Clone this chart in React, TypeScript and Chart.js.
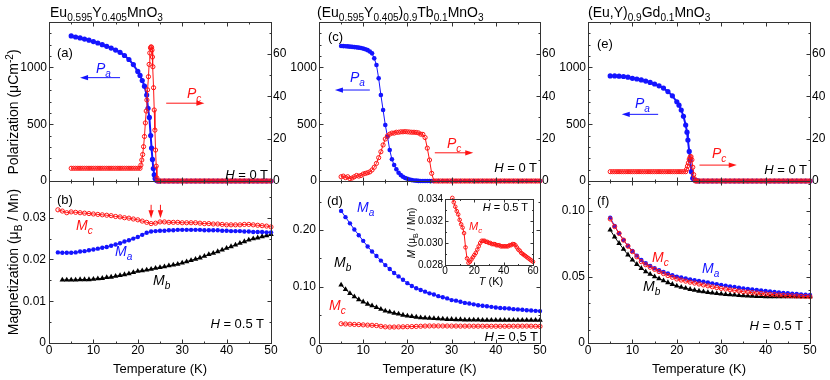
import React, { useEffect, useRef } from 'react';
import { Chart, registerables } from 'chart.js';
Chart.register(...registerables);

const W = 830;
const H = 380;
const FONT = '"Liberation Sans", Arial, Helvetica, sans-serif';
const BLUE = 'rgb(20,20,255)';
const RED = 'rgb(255,20,20)';
const BLACK = '#000';

// ---------------- Panel (a): Eu0.595Y0.405MnO3, H = 0 T ----------------
const aPaT = [5,6,7,8,9,10,11,12,13,14,15,16,17,18,19,20,20.5,21,21.5,22,22.3,22.6,22.9,23.1,23.3,23.5,23.7,23.9,24.2,24.5,
  25,26,27,28,29,30,31,32,33,34,35,36,37,38,39,40,41,42,43,44,45,46,47,48,49,50];
const aPa = [1277,1268,1260,1250,1240,1228,1215,1200,1186,1170,1153,1133,1105,1070,1025,965,930,885,835,757,640,560,400,290,190,110,55,22,6,0,
  0,0,0,0,0,0,0,0,0,0,0,0,0,0,0,0,0,0,0,0,0,0,0,0,0,0];
const aPcT = [5,5.5,6,6.5,7,7.5,8,8.5,9,9.5,10,10.5,11,11.5,12,12.5,13,13.5,14,14.5,15,15.5,16,16.5,17,17.5,18,18.5,19,19.5,20,20.5,
  20.7,20.9,21.1,21.3,21.5,21.7,21.9,22.05,22.2,22.4,22.55,22.7,22.85,23.0,23.1,23.2,23.3,23.4,23.55,23.7,23.85,24.0,24.15,24.3,24.5,
  25,25.5,26,26.5,27,27.5,28,28.5,29,29.5,30,30.5,31,31.5,32,32.5,33,33.5,34,34.5,35,35.5,36,36.5,37,37.5,38,38.5,39,39.5,40,40.5,
  41,41.5,42,42.5,43,43.5,44,44.5,45,45.5,46,46.5,47,47.5,48,48.5,49,49.5,50];
const aPc = [6,6,6,6,6,6,6,6,6,6,6,6,6,6,6,6,6,6,6,6,6,6,6,6,6,6,6,6,6,6,6,6,
  7.5,9.9,12.5,16.2,21,27.4,33,38.2,43,49.2,55,60.4,62.8,63.3,63,61.8,58.5,53.9,44,33.5,24,14.6,7,1.4,0,
  0,0,0,0,0,0,0,0,0,0,0,0,0,0,0,0,0,0,0,0,0,0,0,0,0,0,0,0,0,0,0,0,0,0,0,0,0,0,0,0,0,0,0,0,0,0,0,0,0,0,0];
const aArrows = [
  { x1: 16, y1: 910, x2: 7, y2: 910, ax: 'y', c: BLUE },
  { x1: 26.4, y1: 36.7, x2: 35, y2: 36.7, ax: 'y2', c: RED },
];

// ---------------- Panel (b): magnetization, H = 0.5 T ----------------
const bT = [2,3,4,5,6,7,8,9,10,11,12,13,14,15,16,17,18,19,20,21,22,23,24,25,26,27,28,29,30,31,32,33,34,35,36,37,38,39,40,41,42,43,44,45,46,47,48,49,50];
const bMc = [.0319,.0316,.0312,.0314,.0313,.0312,.0311,.0310,.0309,.0308,.0307,.0306,.0305,.0303,.0302,.0300,.0299,.0297,.0295,.0292,
  .0289,.0286,.0287,.0290,.0290,.0289,.0289,.0289,.0288,.0288,.0288,.0288,.0287,.0286,.0286,.0285,.0285,.0284,.0283,.0283,
  .0283,.0283,.0284,.0284,.0283,.0282,.0281,.0280,.0278];
const bMa = [.0217,.0216,.0216,.0216,.0217,.0219,.0220,.0222,.0224,.0226,.0228,.0230,.0233,.0236,.0239,.0243,.0246,.0250,.0254,.0259,
  .0264,.0267,.0268,.0269,.0269,.0270,.0270,.0271,.0271,.0271,.0271,.0271,.0271,.0270,.0270,.0270,.0270,.0269,.0269,.0268,
  .0268,.0268,.0267,.0267,.0266,.0266,.0266,.0265,.0265];
const bMbT = [3,4,5,6,7,8,9,10,11,12,13,14,15,16,17,18,19,20,21,22,23,24,25,26,27,28,29,30,31,32,33,34,35,36,37,38,39,40,41,42,43,44,45,46,47,48,49,50];
const bMb = [.0151,.0151,.0151,.0151,.0152,.0152,.0152,.0153,.0154,.0155,.0157,.0158,.0160,.0162,.0164,.0166,.0169,.0172,.0173,.0175,
  .0177,.0179,.0181,.0183,.0185,.0187,.0189,.0192,.0195,.0198,.0201,.0204,.0208,.0212,.0215,.0219,.0223,.0227,.0231,.0235,
  .0239,.0243,.0247,.0250,.0252,.0255,.0257,.0260];
const bArrows = [
  { x1: 23, y1: 0.0331, x2: 23, y2: 0.0299, ax: 'y', c: RED },
  { x1: 25.1, y1: 0.0331, x2: 25.1, y2: 0.0299, ax: 'y', c: RED },
];

// ---------------- Panel (c): (Eu0.595Y0.405)0.9Tb0.1MnO3, H = 0 T ----------------
const cPaT = [5,5.5,6,6.5,7,7.5,8,8.5,9,9.5,10,10.5,11,11.5,12,12.5,13,13.5,14,14.5,15,15.5,16,16.5,17,17.5,18,18.5,19,19.5,
  20,20.5,21,21.5,22,22.5,23,23.5,24,24.5,25,25.5,26,27,28,29,30,31,32,33,34,35,36,37,38,39,40,41,42,43,44,45,46,47,48,49,50];
const cPa = [1189,1188,1186,1185,1183,1181,1179,1177,1174,1171,1166,1160,1152,1140,1124,1080,1021,904,757,625,493,390,273,191,141,103,73,52,38,27,
  20,13,8,5,3,1,0,0,0,0,0,0,0,0,0,0,0,0,0,0,0,0,0,0,0,0,0,0,0,0,0,0,0,0,0,0,0];
const cPcT = [5,5.5,6,6.5,7,7.5,8,8.5,9,9.5,10,10.5,11,11.5,12,12.5,13,13.5,14,14.5,15,15.5,16,16.5,17,17.5,18,18.5,19,19.5,
  20,20.5,21,21.5,22,22.5,23,23.5,24,24.5,25,25.5,26,26.5,27,27.5,28,28.5,29,29.5,30,30.5,31,31.5,32,32.5,33,33.5,34,34.5,35,35.5,
  36,36.5,37,37.5,38,38.5,39,39.5,40,40.5,41,41.5,42,42.5,43,43.5,44,44.5,45,45.5,46,46.5,47,47.5,48,48.5,49,49.5,50];
const cPc = [2.0,2.3,1.6,2.0,1.1,1.4,2.0,2.6,2.3,2.6,3.3,3.6,3.9,4.3,5.2,6.5,8.3,11,13.8,17,19.8,21.3,22.1,22.6,22.6,23,23,23.2,23.2,23.3,
  23.2,23.1,23,23,22.9,22.7,22.1,22.0,20.5,15.5,9.9,3.6,0,
  0,0,0,0,0,0,0,0,0,0,0,0,0,0,0,0,0,0,0,0,0,0,0,0,0,0,0,0,0,0,0,0,0,0,0,0,0,0,0,0,0,0,0,0,0,0,0,0];
const cArrows = [
  { x1: 11.5, y1: 801, x2: 3.6, y2: 801, ax: 'y', c: BLUE },
  { x1: 26.2, y1: 13.3, x2: 34.9, y2: 13.3, ax: 'y2', c: RED },
];

// ---------------- Panel (d): magnetization + inset ----------------
const dT = [5,6,7,8,9,10,11,12,13,14,15,16,17,18,19,20,21,22,23,24,25,26,27,28,29,30,31,32,33,34,35,36,37,38,39,40,41,42,43,44,45,46,47,48,49,50];
const dMa = [.234,.223,.212,.201,.191,.181,.171,.162,.154,.146,.138,.131,.124,.118,.112,.106,.101,.097,.094,.091,
  .088,.086,.083,.081,.079,.076,.075,.073,.071,.070,.0685,.067,.066,.065,.064,.063,.062,.0615,.061,.060,.0595,.059,.058,.0575,.057,.0565];
const dMb = [.103,.095,.088,.082,.077,.073,.069,.066,.063,.060,.057,.055,.053,.0515,.0495,.048,.047,.046,.045,.0445,
  .044,.0435,.043,.0425,.042,.042,.0415,.0415,.041,.041,.041,.041,.0405,.0405,.0405,.0405,.0405,.0405,.0405,.0405,.0405,.0405,.0405,.0405,.0405,.0405];
const dMcT = [5,6,7,8,9,10,11,12,13,14,15,16,17,18,19,20,21,22,23,24,25,26,27,28,29,30,31,32,33,34,35,36,37,38,39,40,
  41,42,43,44,45,46,47,48,49,50,51,52,53,54,55,56,57,58,59,60];
const dMc = [.0341,.0337,.0333,.0329,.0326,.0321,.0317,.0314,.0309,.0296,.0286,.0282,.0283,.0285,.0287,.0289,.0291,.0294,.0297,.0300,
  .0302,.0302,.0302,.0301,.0301,.0300,.0300,.0299,.0299,.0299,.0298,.0298,.0298,.0297,.0297,.0297,.0297,.0297,.0297,.0298,
  .0298,.0299,.0299,.0298,.0296,.0294,.0293,.0291,.0290,.0289,.0288,.0287,.0286,.0285,.0284,.0283];

// ---------------- Panel (e): (Eu,Y)0.9Gd0.1MnO3, H = 0 T ----------------
const ePaT = [5,6,7,8,9,10,11,12,13,14,15,16,17,18,19,20,20.5,21,21.5,22,22.3,22.5,22.8,23,23.3,23.6,24,24.5,
  25,26,27,28,29,30,31,32,33,34,35,36,37,38,39,40,41,42,43,44,45,46,47,48,49,50];
const ePa = [925,925,923,920,914,904,898,890,880,868,854,838,818,787,750,698,668,625,570,493,430,361,260,185,82,24,8,3,
  0,0,0,0,0,0,0,0,0,0,0,0,0,0,0,0,0,0,0,0,0,0,0,0,0,0];
const ePcT = [5,5.5,6,6.5,7,7.5,8,8.5,9,9.5,10,10.5,11,11.5,12,12.5,13,13.5,14,14.5,15,15.5,16,16.5,17,17.5,18,18.5,19,19.5,20,20.5,21,21.5,22,
  22.2,22.4,22.6,22.8,23.0,23.2,23.4,23.6,23.8,24.0,24.2,
  24.5,25,25.5,26,26.5,27,27.5,28,28.5,29,29.5,30,30.5,31,31.5,32,32.5,33,33.5,34,34.5,35,35.5,36,36.5,37,37.5,38,38.5,39,39.5,
  40,40.5,41,41.5,42,42.5,43,43.5,44,44.5,45,45.5,46,46.5,47,47.5,48,48.5,49,49.5,50];
const ePc = [4.4,4.4,4.4,4.4,4.4,4.4,4.4,4.4,4.4,4.4,4.4,4.4,4.4,4.4,4.4,4.4,4.4,4.4,4.4,4.4,4.4,4.4,4.4,4.4,4.4,4.4,4.4,4.4,4.4,4.4,4.4,4.4,4.4,4.4,4.4,
  5.5,7.0,8.5,10.3,11.3,11.5,10.0,6.5,3.0,1.0,0,
  0,0,0,0,0,0,0,0,0,0,0,0,0,0,0,0,0,0,0,0,0,0,0,0,0,0,0,0,0,0,0,0,0,0,0,0,0,0,0,0,0,0,0,0,0,0,0,0,0,0,0,0];
const eArrows = [
  { x1: 15.8, y1: 587, x2: 7.6, y2: 587, ax: 'y', c: BLUE },
  { x1: 25.1, y1: 7.5, x2: 33.5, y2: 7.5, ax: 'y2', c: RED },
];

// ---------------- Panel (f): magnetization ----------------
const fT = [5,6,7,8,9,10,11,12,13,14,15,16,17,18,19,20,21,22,23,24,25,26,27,28,29,30,31,32,33,34,35,36,37,38,39,40,41,42,43,44,45,46,47,48,49,50];
const fMa = [.0948,.0885,.0829,.0778,.0735,.0696,.0661,.0628,.0603,.0583,.0565,.0550,.0537,.0525,.0513,.0502,.0495,.0488,.0481,.0475,
  .0469,.0463,.0457,.0451,.0445,.0439,.0434,.0428,.0423,.0418,.0413,.0409,.0405,.0401,.0397,.0393,.0390,.0386,.0383,.0379,
  .0376,.0373,.0371,.0368,.0366,.0363];
const fMc = [.0938,.0880,.0829,.0778,.0732,.0691,.0652,.0615,.0592,.0573,.0557,.0540,.0525,.0510,.0497,.0484,.0476,.0468,.0460,.0453,
  .0446,.0439,.0432,.0425,.0419,.0413,.0408,.0403,.0398,.0393,.0388,.0385,.0381,.0378,.0374,.0371,.0368,.0366,.0363,.0361,
  .0358,.0357,.0355,.0353,.0352,.0350];
const fMb = [.0855,.0802,.0754,.0709,.0667,.0628,.0595,.0565,.0540,.0520,.0502,.0486,.0471,.0457,.0444,.0431,.0422,.0414,.0406,.0399,
  .0393,.0388,.0383,.0379,.0375,.0371,.0368,.0365,.0363,.0360,.0358,.0356,.0355,.0353,.0352,.0351,.0350,.0350,.0350,.0350,
  .0350,.0350,.0350,.0350,.0350,.0350];

// ---------------- helpers ----------------
const pts = (xs: number[], ys: number[]) => xs.map((x, i) => ({ x, y: ys[i] }));

const sBlueThick = (data: any[], ax = 'y') => ({
  data, yAxisID: ax, showLine: true, borderColor: BLUE, borderWidth: 2, tension: 0, fill: false, clip: false,
  pointRadius: 2.6, pointBackgroundColor: BLUE, pointBorderColor: BLUE, pointBorderWidth: 0, pointHoverRadius: 0,
});
const sBlue = (data: any[], ax = 'y', r = 2.2) => ({
  data, yAxisID: ax, showLine: true, borderColor: BLUE, borderWidth: 1, tension: 0, fill: false, clip: false,
  pointRadius: r, pointBackgroundColor: BLUE, pointBorderColor: BLUE, pointBorderWidth: 0, pointHoverRadius: 0,
});
const sRed = (data: any[], ax = 'y', r = 2.1) => ({
  data, yAxisID: ax, showLine: true, borderColor: RED, borderWidth: 1, tension: 0, fill: false, clip: false,
  pointRadius: r, pointBackgroundColor: 'rgba(255,255,255,0)', pointBorderColor: RED, pointBorderWidth: 1, pointHoverRadius: 0,
});
const sBlack = (data: any[], ax = 'y') => ({
  data, yAxisID: ax, showLine: true, borderColor: BLACK, borderWidth: 1, tension: 0, fill: false, clip: false,
  pointStyle: 'triangle', pointRadius: 3.2, pointBackgroundColor: BLACK, pointBorderColor: BLACK, pointBorderWidth: 0, pointHoverRadius: 0,
});

const framePlugin = {
  id: 'frame',
  afterDatasetsDraw(chart: any, _args: any, o: any) {
    const { ctx, chartArea: ca, scales } = chart;
    const L = Math.round(ca.left) + 0.5;
    const R = Math.round(ca.right) + 0.5;
    const T = Math.round(ca.top) + 0.5;
    const B = Math.round(ca.bottom) + 0.5;
    const tl = o.tl ?? 4;
    const tm = o.tm ?? 2;
    ctx.save();
    ctx.strokeStyle = '#333';
    ctx.lineWidth = 1;
    ctx.strokeRect(L, T, R - L, B - T);
    const each = (min: number, max: number, minor: number, major: number, fn: (v: number, len: number) => void) => {
      const i0 = Math.ceil(min / minor - 1e-9);
      const i1 = Math.floor(max / minor + 1e-9);
      for (let i = i0; i <= i1; i++) {
        const v = i * minor;
        const isMaj = Math.abs(v / major - Math.round(v / major)) < 1e-6;
        fn(v, isMaj ? tl : tm);
      }
    };
    ctx.beginPath();
    const xs = scales.x;
    each(xs.min, xs.max, o.xMinor, o.xMajor, (v, len) => {
      const p = Math.round(xs.getPixelForValue(v)) + 0.5;
      if (p <= L + 0.6 || p >= R - 0.6) return;
      ctx.moveTo(p, B); ctx.lineTo(p, B - len);
      ctx.moveTo(p, T); ctx.lineTo(p, T + len);
    });
    const ys = scales.y;
    const y2 = scales.y2;
    each(ys.min, ys.max, o.yMinor, o.yMajor, (v, len) => {
      const p = Math.round(ys.getPixelForValue(v)) + 0.5;
      if (p <= T + 0.6 || p >= B - 0.6) return;
      ctx.moveTo(L, p); ctx.lineTo(L + len, p);
      if (!y2) { ctx.moveTo(R, p); ctx.lineTo(R - len, p); }
    });
    if (y2) {
      each(y2.min, y2.max, o.y2Minor, o.y2Major, (v, len) => {
        const p = Math.round(y2.getPixelForValue(v)) + 0.5;
        if (p <= T + 0.6 || p >= B - 0.6) return;
        ctx.moveTo(R, p); ctx.lineTo(R - len, p);
      });
    }
    ctx.stroke();
    for (const a of o.arrows || []) {
      const sy = scales[a.ax];
      const x1 = xs.getPixelForValue(a.x1), x2 = xs.getPixelForValue(a.x2);
      const y1 = sy.getPixelForValue(a.y1), y2p = sy.getPixelForValue(a.y2);
      const ang = Math.atan2(y2p - y1, x2 - x1);
      const hl = 8, hw = 2.6;
      const c = Math.cos(ang), s = Math.sin(ang);
      ctx.strokeStyle = a.c; ctx.fillStyle = a.c; ctx.lineWidth = 1;
      ctx.beginPath();
      ctx.moveTo(x1, y1); ctx.lineTo(x2 - hl * c * 0.8, y2p - hl * s * 0.8);
      ctx.stroke();
      ctx.beginPath();
      ctx.moveTo(x2, y2p);
      ctx.lineTo(x2 - hl * c + hw * s, y2p - hl * s - hw * c);
      ctx.lineTo(x2 - hl * c - hw * s, y2p - hl * s + hw * c);
      ctx.closePath();
      ctx.fill();
    }
    ctx.restore();
  },
};

interface Ax { min: number; max: number; step: number; minor: number; fmt?: (v: number) => string; }
interface PanelDef {
  area: [number, number, number, number];
  x: Ax; showX: boolean; y: Ax; y2?: Ax;
  sets: any[]; arrows?: any[];
  font?: number; lw?: number; rw?: number; bh?: number; tl?: number; tm?: number; ypad?: number;
}

const stepTicks = (ax: Ax) => {
  const out: { value: number }[] = [];
  const i0 = Math.ceil(ax.min / ax.step - 1e-9);
  const i1 = Math.floor(ax.max / ax.step + 1e-9);
  for (let i = i0; i <= i1; i++) out.push({ value: Number((i * ax.step).toFixed(6)) });
  return out;
};

function makeConfig(d: PanelDef): any {
  const [l, t, r, b] = d.area;
  const fs = d.font ?? 12;
  const LW = d.lw ?? 45, RW = d.rw ?? 30, BH = d.bh ?? 20;
  const tickFont = { family: FONT, size: fs };
  const mkY = (ax: Ax, pos: string, w: number) => ({
    type: 'linear', position: pos, min: ax.min, max: ax.max,
    afterBuildTicks: (s: any) => { s.ticks = stepTicks(ax); },
    afterFit: (s: any) => { s.width = w; },
    grid: { display: false, drawTicks: false, tickLength: 0 },
    border: { display: false },
    ticks: {
      font: tickFont, color: '#000', padding: d.ypad ?? 2, autoSkip: false,
      callback: (v: any) => (ax.fmt ? ax.fmt(Number(v)) : String(v)),
    },
  });
  const scales: any = {
    x: {
      type: 'linear', min: d.x.min, max: d.x.max,
      afterBuildTicks: (s: any) => { s.ticks = stepTicks(d.x); },
      afterFit: (s: any) => { s.height = d.showX ? BH : 0; },
      grid: { display: false, drawTicks: false, tickLength: 0 },
      border: { display: false },
      ticks: {
        display: d.showX, font: tickFont, color: '#000', padding: 0,
        maxRotation: 0, autoSkip: false, callback: (v: any) => String(v),
      },
    },
    y: mkY(d.y, 'left', LW),
  };
  if (d.y2) scales.y2 = mkY(d.y2, 'right', RW);
  return {
    type: 'line',
    data: { datasets: d.sets },
    options: {
      responsive: false, animation: false, devicePixelRatio: 1, events: [],
      layout: { padding: { left: l - LW, top: t, right: W - r - (d.y2 ? RW : 0), bottom: H - b - (d.showX ? BH : 0) } },
      plugins: {
        legend: { display: false }, tooltip: { enabled: false },
        frame: {
          xMajor: d.x.step, xMinor: d.x.minor, yMajor: d.y.step, yMinor: d.y.minor,
          y2Major: d.y2?.step, y2Minor: d.y2?.minor, arrows: d.arrows || [], tl: d.tl, tm: d.tm,
        },
      },
      scales,
    },
    plugins: [framePlugin],
  };
}

const XT: Ax = { min: 0, max: 50, step: 10, minor: 5 };
const PL: Ax = { min: 0, max: 1400, step: 500, minor: 100 };
const PR: Ax = { min: 0, max: 75, step: 20, minor: 10 };
const f2 = (v: number) => (v === 0 ? '0' : v.toFixed(2));

const panels: PanelDef[] = [
  { area: [49, 22, 271, 181], x: XT, showX: false, y: PL, y2: PR, arrows: aArrows,
    sets: [sRed(pts(aPcT, aPc), 'y2'), sBlueThick(pts(aPaT, aPa), 'y')] },
  { area: [49, 181, 271, 343], x: XT, showX: true, y: { min: 0, max: 0.0388, step: 0.01, minor: 0.005, fmt: f2 }, arrows: bArrows, ypad: 3,
    sets: [sRed(pts(bT, bMc)), sBlue(pts(bT, bMa)), sBlack(pts(bMbT, bMb))] },
  { area: [319, 22, 540, 181], x: XT, showX: false, y: PL, y2: PR, arrows: cArrows,
    sets: [sRed(pts(cPcT, cPc), 'y2'), sBlue(pts(cPaT, cPa), 'y', 2.3)] },
  { area: [319, 181, 540, 343], x: XT, showX: true, y: { min: 0, max: 0.287, step: 0.1, minor: 0.05, fmt: f2 }, ypad: 3,
    sets: [sRed(pts(dMcT, dMc).filter((p) => p.x <= 50)), sBlue(pts(dT, dMa)), sBlack(pts(dT, dMb))] },
  { area: [588, 22, 810, 181], x: XT, showX: false, y: PL, y2: PR, arrows: eArrows,
    sets: [sRed(pts(ePcT, ePc), 'y2'), sBlueThick(pts(ePaT, ePa), 'y')] },
  { area: [588, 181, 810, 343], x: XT, showX: true, y: { min: 0, max: 0.1225, step: 0.05, minor: 0.01, fmt: f2 }, ypad: 3,
    sets: [sRed(pts(fT, fMc)), sBlue(pts(fT, fMa)), sBlack(pts(fT, fMb))] },
  { area: [445, 199, 533, 265], x: { min: 0, max: 60, step: 20, minor: 10 }, showX: true,
    y: { min: 0.028, max: 0.034, step: 0.002, minor: 0.001, fmt: (v) => v.toFixed(3) },
    font: 10, lw: 30, bh: 12, tl: 3, tm: 1.5, ypad: 2,
    sets: [sRed(pts(dMcT, dMc), 'y', 1.8)] },
];

function ChartCanvas({ def }: { def: PanelDef }) {
  const ref = useRef<HTMLCanvasElement | null>(null);
  useEffect(() => {
    if (!ref.current) return;
    const chart = new Chart(ref.current, makeConfig(def));
    return () => chart.destroy();
  }, [def]);
  return <canvas ref={ref} width={W} height={H} style={{ position: 'absolute', left: 0, top: 0, width: W, height: H }} />;
}

function Txt({ x, y, a = 'l', s = 13, c = '#000', r = false, children }: any) {
  const tr = r
    ? 'translate(-50%,-50%) rotate(-90deg)'
    : a === 'l' ? 'translate(0,-50%)' : a === 'r' ? 'translate(-100%,-50%)' : 'translate(-50%,-50%)';
  return (
    <div style={{ position: 'absolute', left: x, top: y, transform: tr, fontFamily: FONT, fontSize: s, color: c, lineHeight: 1, whiteSpace: 'nowrap' }}>
      {children}
    </div>
  );
}
const Sub = ({ children }: any) => <span style={{ fontSize: '0.72em', position: 'relative', top: '0.38em' }}>{children}</span>;
const Sup = ({ children }: any) => <span style={{ fontSize: '0.72em', position: 'relative', top: '-0.5em' }}>{children}</span>;
const Lab = ({ m, sub }: any) => <i>{m}<Sub>{sub}</Sub></i>;
const HT = ({ v }: any) => <span><i>H</i> = {v} T</span>;

export default function App() {
  return (
    <div style={{ position: 'absolute', left: 0, top: 0, width: W, height: H, background: '#fff', overflow: 'hidden' }}>
      {panels.map((p, i) => <ChartCanvas key={i} def={p} />)}

      <Txt x={50} y={12} s={14}>Eu<Sub>0.595</Sub>Y<Sub>0.405</Sub>MnO<Sub>3</Sub></Txt>
      <Txt x={317} y={12} s={14}>(Eu<Sub>0.595</Sub>Y<Sub>0.405</Sub>)<Sub>0.9</Sub>Tb<Sub>0.1</Sub>MnO<Sub>3</Sub></Txt>
      <Txt x={588} y={12} s={14}>(Eu,Y)<Sub>0.9</Sub>Gd<Sub>0.1</Sub>MnO<Sub>3</Sub></Txt>

      <Txt x={12.5} y={112} s={14} r>Polarization (μCm<Sup>-2</Sup>)</Txt>
      <Txt x={12.5} y={262} s={14} r>Magnetization (μ<Sub>B</Sub> / Mn)</Txt>

      <Txt x={160} y={368} a="c">Temperature (K)</Txt>
      <Txt x={429.5} y={368} a="c">Temperature (K)</Txt>
      <Txt x={699} y={368} a="c">Temperature (K)</Txt>

      <Txt x={57} y={52}>(a)</Txt>
      <Txt x={96} y={68} s={14} c={BLUE}><Lab m="P" sub="a" /></Txt>
      <Txt x={187} y={93} s={14} c={RED}><Lab m="P" sub="c" /></Txt>
      <Txt x={268} y={174} a="r"><HT v="0" /></Txt>

      <Txt x={57} y={199}>(b)</Txt>
      <Txt x={76} y={225} s={14} c={RED}><Lab m="M" sub="c" /></Txt>
      <Txt x={115} y={251} s={14} c={BLUE}><Lab m="M" sub="a" /></Txt>
      <Txt x={153} y={280} s={14} c={BLACK}><Lab m="M" sub="b" /></Txt>
      <Txt x={264} y={323} a="r"><HT v="0.5" /></Txt>

      <Txt x={328} y={36}>(c)</Txt>
      <Txt x={350} y={77} s={14} c={BLUE}><Lab m="P" sub="a" /></Txt>
      <Txt x={447} y={143} s={14} c={RED}><Lab m="P" sub="c" /></Txt>
      <Txt x={537} y={167} a="r"><HT v="0" /></Txt>

      <Txt x={327} y={200}>(d)</Txt>
      <Txt x={357} y={207} s={14} c={BLUE}><Lab m="M" sub="a" /></Txt>
      <Txt x={334} y={262} s={14} c={BLACK}><Lab m="M" sub="b" /></Txt>
      <Txt x={329} y={305} s={14} c={RED}><Lab m="M" sub="c" /></Txt>
      <Txt x={538} y={336} a="r"><HT v="0.5" /></Txt>

      <Txt x={469} y={226} s={11} c={RED}><Lab m="M" sub="c" /></Txt>
      <Txt x={528} y={207} s={11} a="r"><HT v="0.5" /></Txt>
      <Txt x={491} y={281} s={11} a="c"><i>T</i> (K)</Txt>
      <Txt x={412} y={233} s={10} r><i>M</i> (μ<Sub>B</Sub> / Mn)</Txt>

      <Txt x={597} y={43}>(e)</Txt>
      <Txt x={635} y={103} s={14} c={BLUE}><Lab m="P" sub="a" /></Txt>
      <Txt x={712} y={153} s={14} c={RED}><Lab m="P" sub="c" /></Txt>
      <Txt x={807} y={169} a="r"><HT v="0" /></Txt>

      <Txt x={597} y={200}>(f)</Txt>
      <Txt x={652} y={257} s={14} c={RED}><Lab m="M" sub="c" /></Txt>
      <Txt x={702} y={268} s={14} c={BLUE}><Lab m="M" sub="a" /></Txt>
      <Txt x={643} y={286} s={14} c={BLACK}><Lab m="M" sub="b" /></Txt>
      <Txt x={803} y={325} a="r"><HT v="0.5" /></Txt>
    </div>
  );
}
